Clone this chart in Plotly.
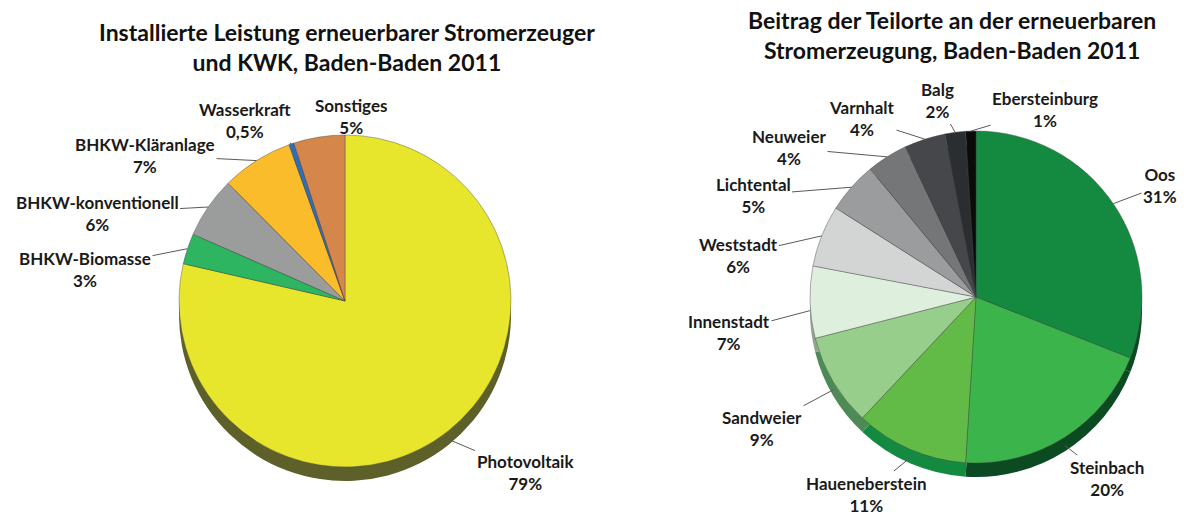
import math
import plotly.graph_objects as go

# Left chart: installed capacity
left_labels = ["Photovoltaik", "BHKW-Biomasse", "BHKW-konventionell", "BHKW-Kläranlage", "Wasserkraft", "Sonstiges"]
left_values = [79, 3, 6, 7, 0.5, 5]
left_pct = ["79%", "3%", "6%", "7%", "0,5%", "5%"]
left_colors = ["#E8E62C", "#2DB562", "#9B9D9D", "#FBBC2C", "#2F6FB8", "#D5874B"]
left_dark = ["#5E602A", "#1E6E3E", "#5F6060", "#8A6818", "#1E4472", "#7E5030"]

# Right chart: contribution of districts
right_labels = ["Oos", "Steinbach", "Haueneberstein", "Sandweier", "Innenstadt", "Weststadt",
                "Lichtental", "Neuweier", "Varnhalt", "Balg", "Ebersteinburg"]
right_values = [31, 20, 11, 9, 7, 6, 5, 4, 4, 2, 1]
right_pct = ["31%", "20%", "11%", "9%", "7%", "6%", "5%", "4%", "4%", "2%", "1%"]
right_colors = ["#148A40", "#3BB54B", "#63BB47", "#97CE8B", "#DEEFDE", "#D3D4D4",
                "#9A9C9D", "#747678", "#45474A", "#2B2E31", "#0B0B0B"]
right_dark = ["#0A4A22", "#0C4A22", "#138A3F", "#4E8A55", "#8FA58F", "#8A8B8B",
              "#5A5C5D", "#45474A", "#2A2C2E", "#1A1C1E", "#050505"]

# Layout: label block centres (pixels from top-left), pie centres and radius
left_label_pos = [(525, 472), (85, 269), (97, 213), (145, 155), (245, 120), (351, 116)]
right_label_pos = [(1160, 186), (1107, 478), (866, 494), (762, 428), (729, 332), (738, 255),
                   (753, 195), (789, 148), (862, 119), (937, 101), (1045, 109)]

W, H = 1187, 517
R = 166
DEPTH = 14
FONT = "Lato"
fig = go.Figure()


def add_pie(labels, values, pct, colors, dark, cx, cy, label_pos):
    dom_x = [(cx - R) / W, (cx + R) / W]
    dom_y = [1 - (cy + R) / H, 1 - (cy - R) / H]
    fig.add_trace(go.Pie(
        labels=labels, values=values, sort=False, direction="clockwise", rotation=0,
        marker=dict(colors=dark, line=dict(width=0)),
        textinfo="none", hoverinfo="skip", showlegend=False,
        domain=dict(x=dom_x, y=[dom_y[0] - DEPTH / H, dom_y[1] - DEPTH / H]),
    ))
    fig.add_trace(go.Pie(
        labels=labels, values=values, text=pct, sort=False, direction="clockwise", rotation=0,
        marker=dict(colors=colors, line=dict(width=0.6, color="rgba(70,70,70,0.7)")),
        textinfo="none", hovertemplate="%{label}: %{text}<extra></extra>",
        showlegend=False, domain=dict(x=dom_x, y=dom_y),
    ))
    total = sum(values)
    cum = 0
    for lab, v, p, (lx, ly) in zip(labels, values, pct, label_pos):
        mid = (cum + v / 2) / total
        cum += v
        th = 2 * math.pi * mid
        ex = cx + R * math.sin(th)
        ey = cy - R * math.cos(th)
        if math.cos(th) < 0:
            ey += DEPTH * 0.6
        fig.add_annotation(
            x=ex / W, y=1 - ey / H, xref="paper", yref="paper",
            ax=lx - ex, ay=ly - ey, axref="pixel", ayref="pixel",
            text=f"<b>{lab}</b><br><b>{p}</b>", showarrow=True, arrowhead=0,
            arrowwidth=1, arrowcolor="#5a5a5a", standoff=0, startstandoff=0,
            font=dict(family=FONT, size=17, color="#1a1a1a"), align="center",
        )


add_pie(left_labels, left_values, left_pct, left_colors, left_dark, 345, 301, left_label_pos)
add_pie(right_labels, right_values, right_pct, right_colors, right_dark, 976, 297, right_label_pos)

fig.add_annotation(text="<b>Installierte Leistung erneuerbarer Stromerzeuger<br>und KWK, Baden-Baden 2011</b>",
                   x=347 / W, y=1 - 47 / H, xref="paper", yref="paper", showarrow=False,
                   xanchor="center", yanchor="middle", font=dict(family=FONT, size=23, color="#111"))
fig.add_annotation(text="<b>Beitrag der Teilorte an der erneuerbaren<br>Stromerzeugung, Baden-Baden 2011</b>",
                   x=952 / W, y=1 - 35 / H, xref="paper", yref="paper", showarrow=False,
                   xanchor="center", yanchor="middle", font=dict(family=FONT, size=23, color="#111"))

fig.update_layout(width=W, height=H, margin=dict(l=0, r=0, t=0, b=0),
                  paper_bgcolor="white", plot_bgcolor="white")
fig.write_html("out.html", config={"displayModeBar": False},
               post_script="document.body.style.margin='0px';")
